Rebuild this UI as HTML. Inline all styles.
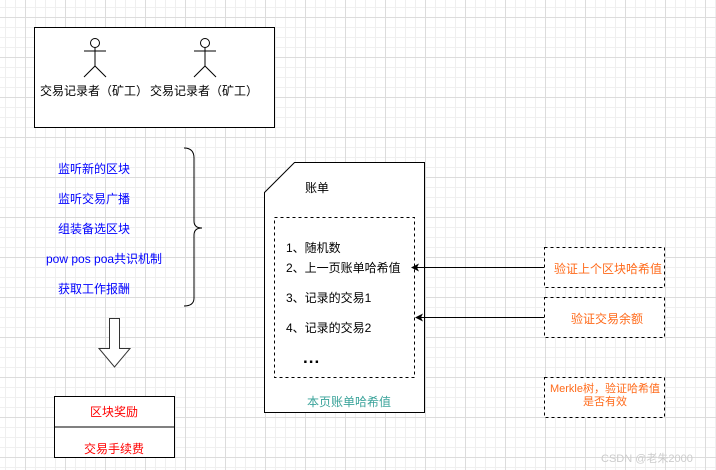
<!DOCTYPE html>
<html><head><meta charset="utf-8"><style>
body{margin:0;width:716px;height:470px;overflow:hidden;background:#fff;font-family:"Liberation Sans","Noto Sans CJK SC",sans-serif;}
.g{position:absolute;left:0;top:0;width:716px;height:470px;
background-image:linear-gradient(#dcdcdc 1px,transparent 1px),linear-gradient(90deg,#dcdcdc 1px,transparent 1px),linear-gradient(#efefef 1px,transparent 1px),linear-gradient(90deg,#efefef 1px,transparent 1px);
background-size:40px 40px,40px 40px,10px 10px,10px 10px;background-position:25px 17px,25px 17px,5px 7px,5px 7px;}
.t{position:absolute;font-size:12px;white-space:nowrap;}
</style></head><body>
<div class="g"></div>
<svg width="716" height="470" style="position:absolute;left:0;top:0">
<defs><marker id="a" markerWidth="8" markerHeight="8" refX="7" refY="4" orient="auto" markerUnits="userSpaceOnUse"><path d="M0,0 L8,4 L0,8 L2,4z" fill="#000"/></marker></defs>
<rect x="34.5" y="27.5" width="240" height="100" fill="#fff" stroke="#000"/>
<g stroke="#000" fill="none">
<circle cx="95" cy="43" r="4.5" fill="#fff"/><line x1="84" y1="51" x2="106" y2="51"/><line x1="95" y1="47.5" x2="95" y2="66"/><path d="M84,77 L95,66 L106,77"/>
<circle cx="205" cy="43" r="4.5" fill="#fff"/><line x1="194" y1="51" x2="216" y2="51"/><line x1="205" y1="47.5" x2="205" y2="66"/><path d="M194,77 L205,66 L216,77"/>
<path d="M184,148 Q194,148 194,158 L194,221 Q194,228 202,228 Q194,228 194,235 L194,298 Q194,306 184,306"/>
<path d="M109.5,318.5 L119.5,318.5 L119.5,348.5 L130,348.5 L114.5,367 L99,348.5 L109.5,348.5z" stroke="#333" fill="#fff"/>
<rect x="54.5" y="396.5" width="120" height="61" fill="#fff"/>
<line x1="54.5" y1="427" x2="174.5" y2="427"/>
<path d="M294.5,162.5 L424.5,162.5 L424.5,412.5 L264.5,412.5 L264.5,192.5z" fill="#fff"/>
<rect x="274.5" y="217.5" width="140" height="160" stroke-dasharray="3,3"/>
<rect x="544.5" y="247.5" width="120" height="40" stroke-dasharray="3,3" fill="#fff"/>
<rect x="544.5" y="297.5" width="120" height="40" stroke-dasharray="3,3" fill="#fff"/>
<rect x="544.5" y="377.5" width="120" height="40" stroke-dasharray="3,3" fill="#fff"/>
<line x1="544" y1="267.5" x2="412" y2="267.5" marker-end="url(#a)"/>
<line x1="544" y1="317.5" x2="416" y2="317.5" marker-end="url(#a)"/>
</g></svg>
<div class="t" style="left:40px;top:82px">交易记录者（矿工）</div>
<div class="t" style="left:150px;top:82px">交易记录者（矿工）</div>
<div class="t" style="left:58px;top:160px;color:#0000ff">监听新的区块</div>
<div class="t" style="left:58px;top:190px;color:#0000ff">监听交易广播</div>
<div class="t" style="left:58px;top:220px;color:#0000ff">组装备选区块</div>
<div class="t" style="left:46px;top:250px;color:#0000ff">pow pos poa共识机制</div>
<div class="t" style="left:58px;top:280px;color:#0000ff">获取工作报酬</div>
<div class="t" style="left:90px;top:403px;color:#ff0000">区块奖励</div>
<div class="t" style="left:84px;top:440px;color:#ff0000">交易手续费</div>
<div class="t" style="left:305px;top:179px">账单</div>
<div class="t" style="left:286px;top:239px">1、随机数</div>
<div class="t" style="left:286px;top:259px">2、上一页账单哈希值</div>
<div class="t" style="left:286px;top:289px">3、记录的交易1</div>
<div class="t" style="left:286px;top:319px">4、记录的交易2</div>
<div class="t" style="left:303px;top:348px;font-weight:bold;font-size:17px;letter-spacing:1px">...</div>
<div class="t" style="left:307px;top:393px;color:#3aa39a">本页账单哈希值</div>
<div class="t" style="left:554px;top:260px;color:#ff6a1a">验证上个区块哈希值</div>
<div class="t" style="left:571px;top:310px;color:#ff6a1a">验证交易余额</div>
<div class="t" style="left:545px;top:383px;color:#ff6a1a;line-height:13px;text-align:center;width:120px;font-size:11px">Merkle树，验证哈希值<br>是否有效</div>
<div class="t" style="left:601px;top:450px;color:#ccc;font-size:11px">CSDN @老朱2000</div>
</body></html>
